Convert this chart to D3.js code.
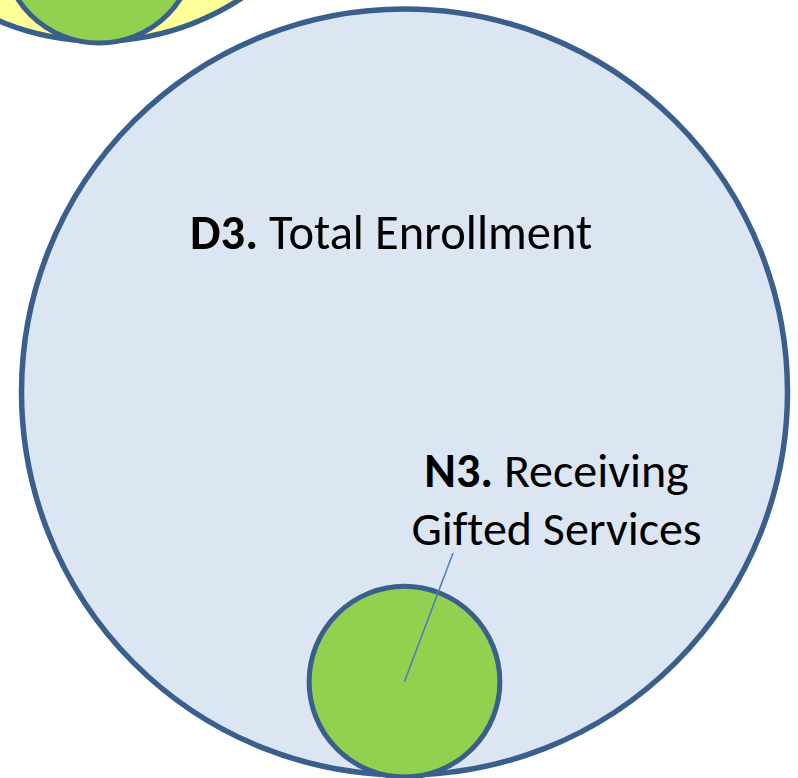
<!DOCTYPE html>
<html>
<head>
<meta charset="utf-8">
<script src="https://cdn.jsdelivr.net/npm/d3@7"></script>
<style>
  body { margin: 0; background: #fff; }
  svg { display: block; }
  text { font-variant-ligatures: none; }
</style>
</head>
<body>
<svg id="chart"></svg>
<script>
// circles: parent groups and the circle nested in each (relative areas)
const groupIds = ["prev", "D3"];
const groupAreas = [45.4, 100];
const childIds = ["prevChild", "N3"];
const childAreas = [6.4, 6.2];
const groupFills = ["#ffff99", "#dce6f2"];
const childFills = ["#92d050", "#92d050"];
const labelCodes = ["D3.", "N3."];
const labelTexts = [["Total Enrollment"], ["Receiving", "Gifted Services"]];

const width = 798, height = 778;
const svg = d3.select("#chart").attr("width", width).attr("height", height);

// radius from area
const r = d3.scaleSqrt().domain([0, 100]).range([0, 383]);

// centres of the two parent circles (the first one is cut by the top edge)
const centres = [[99, -217], [404.5, 392]];

const groups = groupIds.map((id, i) => {
  const R = r(groupAreas[i]);
  const cr = r(childAreas[i]);
  return {
    id, R, cx: centres[i][0], cy: centres[i][1],
    child: { id: childIds[i], r: cr, cx: centres[i][0], cy: centres[i][1] + R - cr + 2, fill: childFills[i] },
    fill: groupFills[i]
  };
});

const stroke = "#3a5f8c";

svg.selectAll("circle.parent").data(groups).enter().append("circle")
  .attr("class", "parent")
  .attr("cx", d => d.cx).attr("cy", d => d.cy).attr("r", d => d.R)
  .style("fill", d => d.fill).style("stroke", stroke).style("stroke-width", 5.5);

svg.selectAll("circle.child").data(groups).enter().append("circle")
  .attr("class", "child")
  .attr("cx", d => d.child.cx).attr("cy", d => d.child.cy).attr("r", d => d.child.r)
  .style("fill", d => d.child.fill).style("stroke", stroke).style("stroke-width", 5);

const font = "Carlito, Lato, 'Open Sans', sans-serif";

// D3 label
const main = groups[1];
const t1 = svg.append("text")
  .attr("x", 190).attr("y", 249)
  .style("font-family", font).style("font-size", "48.5px").style("fill", "#000");
t1.append("tspan").style("font-weight", "bold").text(labelCodes[0]);
t1.append("tspan").text(" " + labelTexts[0][0]);

// N3 label
const lx = 556.5;
const t2 = svg.append("text")
  .attr("x", lx).attr("y", 487).attr("text-anchor", "middle")
  .style("font-family", font).style("font-size", "48px").style("fill", "#000");
t2.append("tspan").style("font-weight", "bold").text(labelCodes[1]);
t2.append("tspan").text(" " + labelTexts[1][0]);
svg.append("text")
  .attr("x", lx).attr("y", 545).attr("text-anchor", "middle")
  .style("font-family", font).style("font-size", "48px").style("fill", "#000")
  .text(labelTexts[1][1]);

// leader line from the label to the centre of the N3 circle
svg.append("line")
  .attr("x1", 453).attr("y1", 553)
  .attr("x2", main.child.cx).attr("y2", main.child.cy)
  .style("stroke", "#4a7ebb").style("stroke-width", 1.5);
</script>
</body>
</html>
